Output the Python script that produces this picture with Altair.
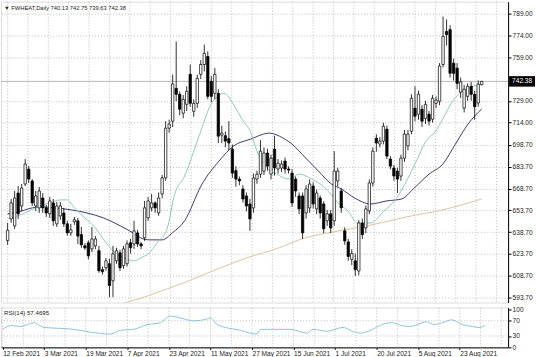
import json
import altair as alt
import pandas as pd

# ---------------- data ----------------
opens = [633, 647.8, 643.0, 665.6, 656.7, 671.8, 682.1, 673.9, 656.7, 655.4,
         662.2, 655.4, 651.3, 658.8, 644.4, 649.9, 651.9, 644.4, 638.2, 645.8,
         646.5, 637.0, 629.3, 631.4, 627.2, 629.3, 626.0, 612.9, 614.2, 617.0,
         605.3, 619.0, 624.5, 615.6, 617.0, 631.4, 630.6, 638.2, 630.6, 634.8,
         648.5, 655.4, 658.8, 651.9, 665.0, 676.0, 710.2, 715.0, 737.6, 733.5,
         720.5, 726.6, 747.2, 721.8, 727.3, 747.2, 754.0, 759.5, 742.4, 734.2,
         734.2, 705.4, 705.0, 703.0, 695.8, 681.0, 675.2, 668.4, 663.6, 658.0,
         655.4, 675.2, 678.6, 680.7, 693.1, 678.6, 695.8, 682.1, 682.8, 687.6,
         682.1, 679.3, 675.2, 663.6, 663.6, 651.9, 655.4, 670.4, 654.7, 662.2,
         658.1, 646.5, 651.3, 646.5, 673.9, 667.0, 639.6, 632.0, 620.0, 619.0,
         612.0, 645.0, 641.6, 653.3, 672.5, 703.3, 699.3, 701.3, 709.5, 689.0,
         682.8, 680.7, 677.3, 689.6, 698.0, 708.1, 723.9, 719.8, 723.2, 717.0,
         719.8, 716.4, 727.3, 728.7, 754.0, 776.7, 778.0, 754.9, 751.5, 735.0,
         724.0, 732.1, 739.0, 733.5, 727.5, 740.13]
highs = [645, 661.5, 667.0, 670.4, 671.8, 688.9, 684.1, 675.2, 667.0, 669.8,
         665.6, 657.4, 662.9, 661.5, 659.5, 659.5, 655.4, 646.5, 644.4, 649.2,
         648.5, 642.3, 631.0, 633.0, 642.3, 636.0, 629.3, 615.0, 621.0, 620.4,
         629.3, 628.0, 626.5, 629.3, 633.0, 634.0, 646.5, 640.3, 632.0, 660.2,
         663.0, 665.0, 660.0, 666.0, 678.0, 715.0, 716.0, 747.0, 769.8, 735.5,
         733.0, 739.0, 754.0, 730.0, 747.0, 757.0, 767.7, 763.0, 746.0, 751.5,
         737.0, 712.0, 708.0, 715.0, 699.0, 684.0, 677.0, 671.0, 666.0, 661.5,
         679.0, 681.0, 702.0, 697.0, 696.0, 692.0, 705.0, 689.0, 688.0, 690.0,
         684.0, 682.0, 677.0, 666.0, 666.0, 671.0, 675.0, 673.0, 668.0, 664.0,
         660.0, 654.0, 654.0, 694.4, 683.0, 669.0, 642.0, 634.0, 627.0, 624.0,
         647.0, 648.0, 657.0, 675.0, 697.0, 706.0, 704.0, 714.0, 712.0, 691.0,
         685.0, 683.0, 692.0, 709.0, 709.0, 733.5, 739.0, 736.0, 726.0, 729.0,
         722.0, 733.0, 732.0, 755.0, 787.0, 785.0, 781.0, 758.0, 755.0, 745.0,
         740.0, 741.0, 742.0, 736.0, 743.0, 742.75]
lows = [630, 645.1, 641.0, 647.8, 653.3, 670.4, 672.5, 656.7, 653.3, 651.9,
        651.9, 649.2, 648.5, 643.0, 642.3, 647.2, 642.3, 636.2, 636.2, 643.7,
        630.6, 628.0, 626.5, 620.0, 625.0, 627.0, 610.8, 609.5, 612.2, 594.0,
        594.0, 617.0, 612.0, 613.5, 615.0, 624.0, 627.2, 628.5, 627.0, 632.7,
        646.5, 653.0, 652.0, 650.0, 662.0, 674.0, 707.0, 711.0, 728.7, 719.0,
        717.0, 722.0, 725.0, 718.0, 724.0, 744.0, 749.2, 730.0, 728.0, 730.0,
        700.0, 700.0, 697.0, 695.0, 676.0, 670.0, 671.0, 659.0, 653.0, 639.6,
        652.0, 672.0, 676.0, 678.0, 681.0, 675.0, 677.5, 679.0, 680.0, 679.0,
        679.0, 656.0, 663.0, 651.0, 634.0, 648.0, 652.0, 655.0, 651.0, 648.0,
        638.0, 643.0, 638.0, 643.0, 670.0, 652.0, 630.0, 619.0, 616.0, 608.5,
        609.0, 634.0, 638.0, 651.0, 670.0, 694.0, 697.0, 699.0, 689.0, 682.0,
        674.0, 665.6, 674.0, 687.0, 695.0, 706.0, 715.0, 716.0, 711.0, 713.0,
        712.0, 714.0, 724.0, 726.0, 752.0, 767.0, 745.0, 743.0, 737.0, 731.0,
        721.0, 729.0, 729.0, 716.0, 725.0, 739.63]
closes = [640, 658.8, 662.2, 651.3, 669.1, 685.5, 675.2, 658.8, 663.6, 667.0,
          655.4, 651.9, 660.2, 646.5, 656.7, 656.7, 644.4, 638.2, 640.3, 647.2,
          636.0, 630.0, 627.9, 622.4, 634.0, 634.0, 612.2, 611.5, 619.0, 602.0,
          623.8, 625.9, 614.2, 627.2, 630.7, 628.0, 639.6, 630.6, 629.3, 655.4,
          660.2, 658.8, 655.4, 662.2, 676.0, 710.2, 713.0, 740.6, 733.5, 723.2,
          730.0, 735.5, 727.3, 727.3, 744.4, 754.0, 761.6, 732.1, 732.1, 747.2,
          704.7, 706.8, 701.3, 700.0, 679.3, 675.2, 673.9, 661.5, 656.7, 647.8,
          675.9, 678.6, 694.4, 693.1, 684.1, 689.6, 682.8, 686.2, 685.5, 682.1,
          681.4, 658.8, 667.0, 654.7, 638.2, 668.4, 671.8, 658.1, 665.6, 651.9,
          641.0, 651.3, 641.6, 680.7, 680.7, 655.4, 632.7, 622.0, 624.0, 612.9,
          645.0, 637.0, 654.7, 672.5, 694.4, 700.0, 701.3, 711.5, 691.0, 684.1,
          677.3, 675.2, 689.6, 706.1, 706.1, 730.8, 718.4, 733.5, 715.0, 726.6,
          715.0, 730.8, 729.5, 752.9, 773.3, 774.6, 748.0, 747.9, 741.0, 742.0,
          737.0, 739.0, 733.5, 725.0, 740.5, 742.38]

fast_ma_bar = [0, 5, 9, 12, 15, 17, 19, 22, 25, 27, 30, 33, 36, 38, 40, 43, 45.4, 47.6,
               50.4, 54.3, 58, 59.9, 61.6, 64.3, 67.1, 69.1, 71, 73.8, 76.6, 80.2, 83,
               86.6, 90.5, 94.1, 96.9, 99.7, 103.3, 107.2, 110.8, 113.6, 116.4, 119.1,
               121.9, 123.9, 126.7, 129.4, 131.1, 134.4]
fast_ma_val = [647.8, 651.9, 656.7, 658.8, 660.9, 660.9, 655.4, 648.5, 641.6, 634.8,
               625.9, 621.1, 619.0, 621.1, 623.8, 632.7, 641.0, 665.0, 677.3, 703.3,
               726.9, 732.1, 734.2, 726.6, 715.0, 708.1, 694.4, 682.8, 678.6, 675.2,
               678.6, 675.2, 669.1, 658.8, 653.3, 645.0, 645.0, 653.3, 662.2, 673.9,
               687.6, 701.3, 708.1, 716.4, 728.7, 735.5, 737.6, 740.3]

slow_ma_bar = [0, 3.1, 7, 9.8, 13.4, 18.2, 22.6, 27.3, 32.1, 35.7, 38.5, 40.4, 44, 46.9,
               50.4, 55.2, 60.2, 64.3, 69.1, 74.6, 77.4, 81.0, 84.9, 88.5, 92.2, 95,
               98.8, 103.3, 108.0, 112.2, 115.5, 120, 123.9, 127.5, 131.1, 135]
slow_ma_val = [651.2, 652.6, 655.4, 656.1, 655.4, 654.0, 651.9, 648.5, 643.0, 638.2,
               634.1, 633.4, 633.4, 638.2, 646.5, 671.1, 687.6, 697.9, 702.6, 706.8,
               704.7, 699.2, 689.6, 680.7, 671.8, 668.4, 662.2, 658.1, 660.2, 661.5,
               668.4, 678.6, 685.5, 699.2, 713.0, 723.4]

long_ma_bar = [32.4, 38.5, 44, 49.6, 58.8, 68.2, 77.4, 83, 96, 102.4, 113.6, 123.9, 135]
long_ma_val = [589.6, 593.7, 598.5, 603.3, 612.4, 621.1, 628.0, 633.4, 640.3, 643.0,
               649.2, 654.0, 661.5]

rsi_bar = [0, 2.3, 5.1, 8.7, 11.5, 16.2, 19.8, 24.6, 30.1, 32.9, 36.5, 40.4, 44, 46.8,
           49.6, 53.2, 57.1, 58, 59.9, 66.3, 71, 71.9, 75.5, 80.2, 85, 86.6, 90.5, 95,
           97.7, 99.7, 103.3, 105.2, 108.8, 111.4, 113.6, 115.8, 118.3, 120.5, 122.8,
           125.3, 128.3, 131.1, 133.1, 134.7]
rsi_val = [47.5, 57.5, 55, 65, 52.5, 50, 47.5, 40, 35, 45, 47.5, 60, 65, 82.5, 77.5, 70,
           75, 77.5, 60, 45, 35, 47.5, 47.5, 47.5, 37.5, 47.5, 42.5, 52.5, 42.5, 37.5,
           47.5, 57.5, 65, 57.5, 55, 60, 67.5, 60, 65, 72.5, 60, 55, 52.5, 57.5]

date_labels = ["12 Feb 2021", "3 Mar 2021", "19 Mar 2021", "7 Apr 2021", "23 Apr 2021",
               "11 May 2021", "27 May 2021", "15 Jun 2021", "1 Jul 2021", "20 Jul 2021",
               "5 Aug 2021", "23 Aug 2021"]
price_ticks = [789.00, 774.00, 759.00, 729.00, 714.00, 698.70, 683.70, 668.70,
               653.70, 638.70, 623.70, 608.70, 593.70]
rsi_ticks = [0, 30, 70, 100]
rsi_levels = [30, 70]
header_text = "▼ FWHEAT,Daily  740.13 742.75 739.63 742.38"
rsi_text = "RSI(14) 57.4695"
last_price = 742.38

# ---------------- layout ----------------
FONT = "Liberation Sans"
FS = 6.6
W = 509
H_MAIN = 302
H_RSI = 40
X_DOMAIN = [-0.47, 141.1]
Y_DOMAIN = [590.3, 797.2]
LABEL_STEP = 11.6

n = len(closes)
candles = pd.DataFrame({
    "i": list(range(n)), "o": opens, "h": highs, "l": lows, "c": closes,
})
candles["fillc"] = ["#ffffff" if c >= o else "#000000" for o, c in zip(opens, closes)]

label_vals = [round(LABEL_STEP * k, 3) for k in range(len(date_labels))]
grid_vals = [round(LABEL_STEP * k / 2, 3) for k in range(2 * len(date_labels) + 1)
             if LABEL_STEP * k / 2 < X_DOMAIN[1]]
vgrid = pd.DataFrame({"i": grid_vals})

xs = alt.Scale(domain=X_DOMAIN, nice=False, zero=False)
ys = alt.Scale(domain=Y_DOMAIN, nice=False, zero=False)
yax = alt.Axis(orient="right", values=price_ticks, format=".2f", grid=True,
               gridDash=[1, 2], gridColor="#bdbdbd", tickSize=3, tickColor="#000",
               domainColor="#000", labelFont=FONT, labelFontSize=FS,
               labelColor="#222", labelPadding=1, title=None)


def X(field="i"):
    return alt.X(f"{field}:Q", scale=xs, axis=None)


def Y(field):
    return alt.Y(f"{field}:Q", scale=ys, axis=yax)


grid_layer = alt.Chart(vgrid).mark_rule(color="#bdbdbd", strokeDash=[1, 2], strokeWidth=1).encode(
    x=X(), y=alt.value(0), y2=alt.value(H_MAIN))

price_line = alt.Chart(pd.DataFrame({"p": [last_price]})).mark_rule(
    color="#b8b8b8", strokeWidth=1).encode(y=Y("p"), x=alt.value(0), x2=alt.value(W))

wicks = alt.Chart(candles).mark_rule(color="#000", strokeWidth=0.8).encode(
    x=X(), y=Y("l"), y2="h:Q")
bodies = alt.Chart(candles).mark_bar(size=2.4, stroke="#000", strokeWidth=0.7).encode(
    x=X(), y=Y("o"), y2="c:Q", fill=alt.Fill("fillc:N", scale=None))


def ma_layer(bars, vals, color, width=1):
    df = pd.DataFrame({"i": bars, "v": vals})
    return alt.Chart(df).mark_line(color=color, strokeWidth=width, clip=True,
                                   interpolate="monotone").encode(x=X(), y=Y("v"))


fast = ma_layer(fast_ma_bar, fast_ma_val, "#93c9bb")
slow = ma_layer(slow_ma_bar, slow_ma_val, "#3d3b6b")
longm = ma_layer(long_ma_bar, long_ma_val, "#dcc3a3")

box_df = pd.DataFrame({"p": [last_price], "top": [last_price + 3.6],
                       "bot": [last_price - 3.6], "t": [f"{last_price:.2f}"]})
box = alt.Chart(box_df).mark_rect(color="#000", clip=False).encode(
    x=alt.value(W + 1), x2=alt.value(W + 27), y=Y("top"), y2="bot:Q")
box_text = alt.Chart(box_df).mark_text(color="#fff", font=FONT, fontSize=FS, align="left",
                                       baseline="middle", clip=False).encode(
    x=alt.value(W + 4), y=Y("p"), text="t:N")

header = alt.Chart(pd.DataFrame({"t": [header_text]})).mark_text(
    font=FONT, fontSize=5.8, color="#222", align="left", baseline="middle").encode(
    x=alt.value(3), y=alt.value(6), text="t:N")

main = alt.layer(grid_layer, price_line, longm, slow, fast, wicks, bodies, box, box_text,
                 header).properties(width=W, height=H_MAIN)

# ---------------- RSI panel ----------------
labels_js = json.dumps(date_labels)
xax = alt.Axis(values=label_vals, labelExpr=f"{labels_js}[round(datum.value / {LABEL_STEP})]",
               labelAlign="left", labelBaseline="top", labelFont=FONT, labelFontSize=FS,
               labelColor="#222", labelPadding=1, tickSize=2, tickColor="#000",
               domainColor="#000", labelFlush=False, labelOverlap=False, grid=False,
               title=None)
rs = alt.Scale(domain=[0, 105], nice=False, zero=False)
rax = alt.Axis(orient="right", values=rsi_ticks, grid=False, tickSize=3, tickColor="#000",
               domainColor="#000", labelFont=FONT, labelFontSize=FS, labelColor="#222",
               labelPadding=1, title=None)

rsi_grid = alt.Chart(vgrid).mark_rule(color="#bdbdbd", strokeDash=[1, 2]).encode(
    x=alt.X("i:Q", scale=xs, axis=xax), y=alt.value(0), y2=alt.value(H_RSI))
rsi_lv = alt.Chart(pd.DataFrame({"v": rsi_levels})).mark_rule(
    color="#bdbdbd", strokeDash=[1, 2]).encode(
    y=alt.Y("v:Q", scale=rs, axis=rax), x=alt.value(0), x2=alt.value(W))
rsi_line = alt.Chart(pd.DataFrame({"i": rsi_bar, "v": rsi_val})).mark_line(
    color="#8fc3d9", strokeWidth=1, interpolate="monotone").encode(
    x=alt.X("i:Q", scale=xs, axis=xax), y=alt.Y("v:Q", scale=rs, axis=rax))
rsi_label = alt.Chart(pd.DataFrame({"t": [rsi_text]})).mark_text(
    font=FONT, fontSize=6.2, color="#222", align="left", baseline="middle").encode(
    x=alt.value(3), y=alt.value(6), text="t:N")

rsi = alt.layer(rsi_grid, rsi_lv, rsi_line, rsi_label).properties(width=W, height=H_RSI)

chart = alt.vconcat(main, rsi, spacing=2).properties(padding=0).configure_view(
    stroke="#000", strokeWidth=1).configure(background="#ffffff")

chart.save("out.html", embed_options={"renderer": "svg", "actions": False})
